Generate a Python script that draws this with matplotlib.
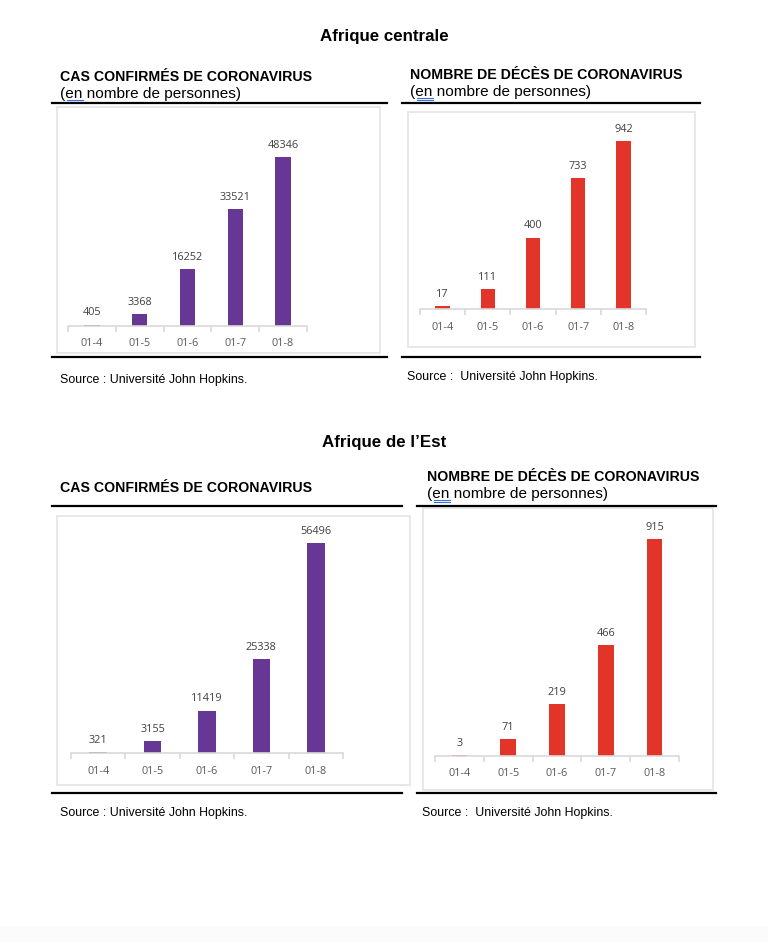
import matplotlib
matplotlib.use("Agg")
import matplotlib.pyplot as plt
from matplotlib.lines import Line2D
from matplotlib.patches import Rectangle

# Data
dates = ["01-4", "01-5", "01-6", "01-7", "01-8"]
centrale_cas = [405, 3368, 16252, 33521, 48346]
centrale_deces = [17, 111, 400, 733, 942]
est_cas = [321, 3155, 11419, 25338, 56496]
est_deces = [3, 71, 219, 466, 915]

PURPLE = "#673795"
RED = "#E3342A"
W, H = 768, 942

fig = plt.figure(figsize=(W / 100, H / 100), dpi=100)
fig.patch.set_facecolor("white")

TITLE_FONT = ["Liberation Sans", "DejaVu Sans"]
NUM_FONT = ["Open Sans", "DejaVu Sans"]


def fx(x):
    return x / W


def fy(y):
    return 1 - y / H


def hline(x0, x1, y, color="black", lw=1.6):
    fig.add_artist(Line2D([fx(x0), fx(x1)], [fy(y), fy(y)], color=color, lw=lw))


def frame(x0, y0, x1, y1):
    fig.add_artist(Rectangle((fx(x0), fy(y1)), fx(x1) - fx(x0), fy(y0) - fy(y1),
                             fill=False, edgecolor="#e6e6e6", lw=1.3))


def chart(values, color, x0, x1, ybase, ymax, px_per_unit):
    height = ymax * px_per_unit
    ax = fig.add_axes([fx(x0), fy(ybase), fx(x1) - fx(x0), height / H])
    ax.set_facecolor("none")
    pos = range(len(values))
    ax.bar(pos, values, width=0.32, color=color, zorder=2)
    for i, v in zip(pos, values):
        ax.annotate(str(v), (i, v), xytext=(0, 4.5), textcoords="offset points",
                    ha="center", va="bottom", fontsize=7.8, color="#404040",
                    family=NUM_FONT)
    ax.set_xlim(-0.5, len(values) - 0.5)
    ax.set_ylim(0, ymax)
    for s in ["top", "left", "right"]:
        ax.spines[s].set_visible(False)
    ax.spines["bottom"].set_color("#d9d9d9")
    ax.spines["bottom"].set_linewidth(1.2)
    ax.set_yticks([])
    ax.set_xticks(list(pos))
    ax.set_xticklabels(dates, fontsize=7.8, color="#595959", family=NUM_FONT)
    ax.tick_params(axis="x", which="major", length=0, pad=9)
    ax.set_xticks([i - 0.5 for i in range(len(values) + 1)], minor=True)
    ax.tick_params(axis="x", which="minor", length=4, width=1.2, color="#d9d9d9",
                   direction="out")
    return ax


def titles(x, y, head, sub=True):
    fig.text(fx(x), fy(y), head, fontsize=10.2, fontweight="bold", family=TITLE_FONT,
             va="center", ha="left")
    if sub:
        fig.text(fx(x), fy(y + 17), "(en nombre de personnes)", fontsize=11.1,
                 family=TITLE_FONT, va="center", ha="left")
        # spellcheck underline below "en"
        hline(x + 7, x + 23, y + 23, color="#3a6fd8", lw=0.8)
        hline(x + 7, x + 23, y + 24.5, color="#3a6fd8", lw=0.8)


def source(x, y, text):
    fig.text(fx(x), fy(y), text, fontsize=8.9, family=TITLE_FONT, va="center", ha="left")


# faint page edge at the bottom
fig.add_artist(Rectangle((0, 0), 1, 16 / H, facecolor="#fbfbfb", edgecolor="none"))

# Section titles
fig.text(0.5, fy(37), "Afrique centrale", fontsize=12.2, fontweight="bold",
         family=TITLE_FONT, ha="center", va="center")
fig.text(0.5, fy(442), "Afrique de l\u2019Est", fontsize=12.2, fontweight="bold",
         family=TITLE_FONT, ha="center", va="center")

# Top-left: Afrique centrale, cas
titles(60, 77, "CAS CONFIRMÉS DE CORONAVIRUS")
hline(52, 387, 103)
frame(57, 107, 380, 353)
chart(centrale_cas, PURPLE, 68, 307, 326, 60000, 169 / 48346)
hline(52, 387, 357)
source(60, 380, "Source : Université John Hopkins.")

# Top-right: Afrique centrale, décès
titles(410, 75, "NOMBRE DE DÉCÈS DE CORONAVIRUS")
hline(402, 700, 103)
frame(408, 112, 695, 347)
chart(centrale_deces, RED, 420, 646, 309, 1000, 168 / 942)
hline(402, 700, 357)
source(407, 377, "Source :  Université John Hopkins.")

# Bottom-left: Afrique de l'Est, cas
titles(60, 488, "CAS CONFIRMÉS DE CORONAVIRUS", sub=False)
hline(52, 402, 506)
frame(57, 516, 410, 785)
chart(est_cas, PURPLE, 71, 343, 753, 60000, 210 / 56496)
hline(52, 402, 793)
source(60, 813, "Source : Université John Hopkins.")

# Bottom-right: Afrique de l'Est, décès
titles(427, 477, "NOMBRE DE DÉCÈS DE CORONAVIRUS")
hline(417, 716, 506)
frame(423, 508, 713, 790)
chart(est_deces, RED, 435, 679, 756, 1000, 217 / 915)
hline(417, 716, 793)
source(422, 813, "Source :  Université John Hopkins.")

fig.savefig("out.png", dpi=100, facecolor="white")
